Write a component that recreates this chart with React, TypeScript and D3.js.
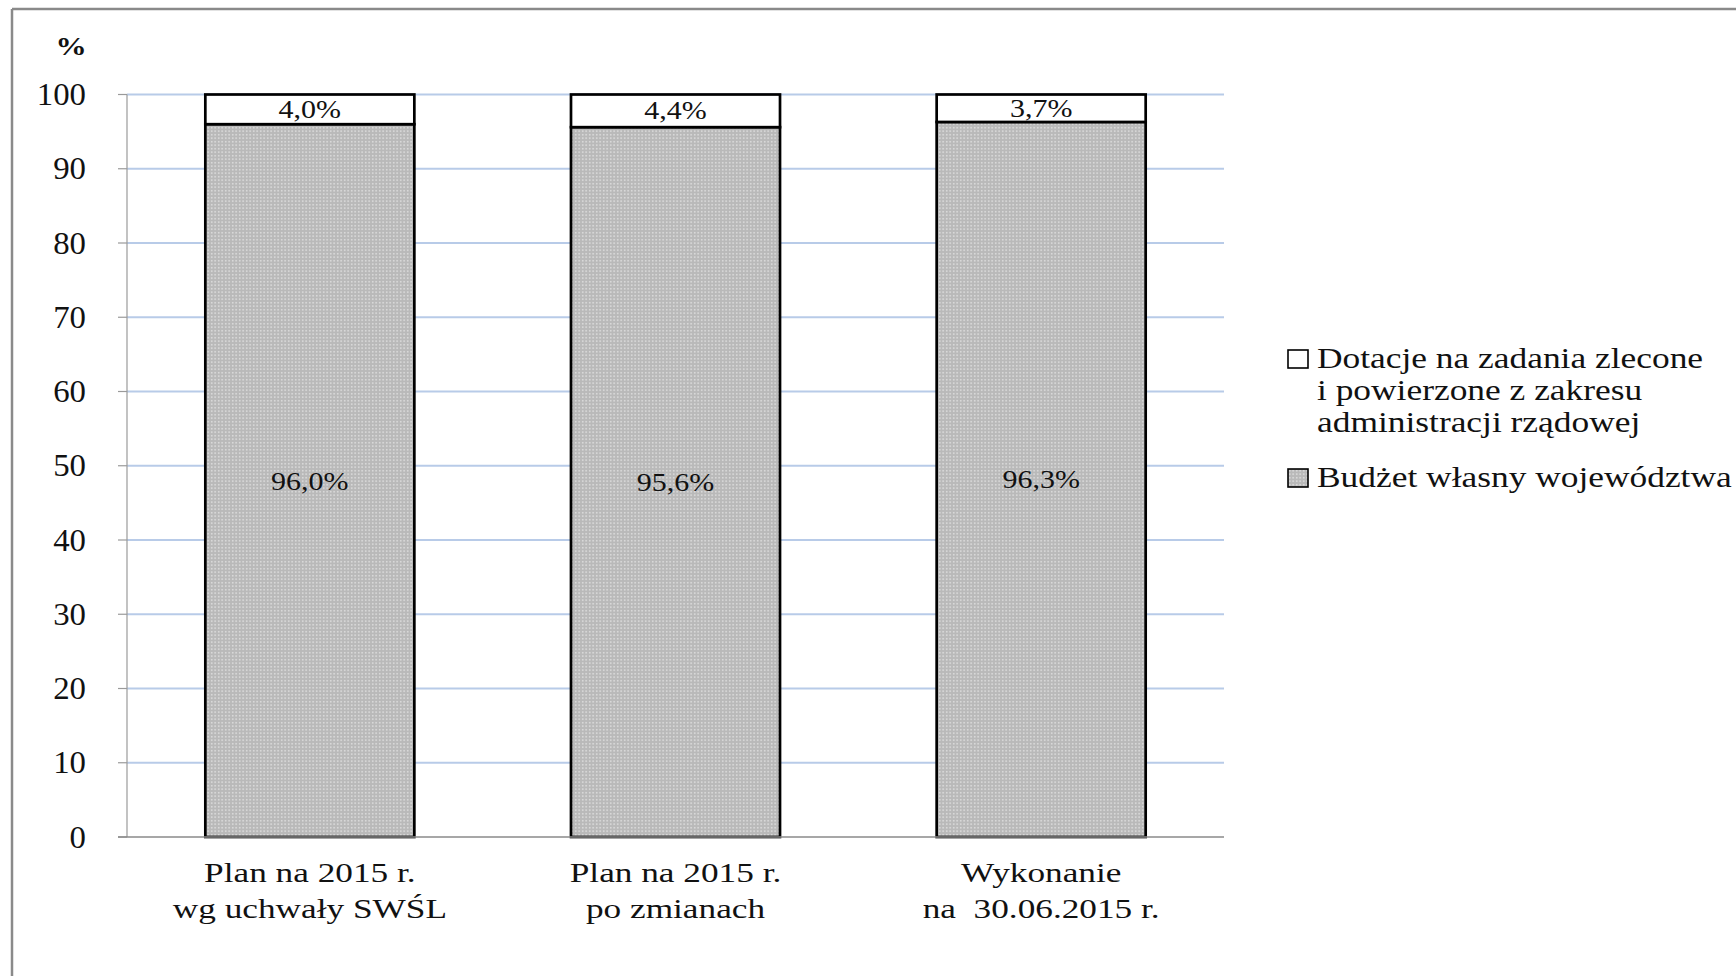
import React from 'react';
import * as d3 from 'd3';

// ---- data ----
const categoryLines: string[][] = [
  ['Plan na 2015 r.', 'wg uchwały SWŚL'],
  ['Plan na 2015 r.', 'po zmianach'],
  ['Wykonanie', 'na  30.06.2015 r.'],
];
const budzetWlasny = [96.0, 95.6, 96.3];
const dotacje = [4.0, 4.4, 3.7];
const budzetLabels = ['96,0%', '95,6%', '96,3%'];
const dotacjeLabels = ['4,0%', '4,4%', '3,7%'];
const yTicks = [0, 10, 20, 30, 40, 50, 60, 70, 80, 90, 100];
const legendDotacje = ['Dotacje na zadania zlecone', 'i powierzone z zakresu', 'administracji rządowej'];
const legendBudzet = ['Budżet własny województwa'];

const W = 1736;
const H = 976;
const SERIF = '"Liberation Serif", "Times New Roman", serif';

export default function App() {
  React.useEffect(() => {
    document.body.style.margin = '0';
  }, []);

  const plotLeft = 127;
  const plotRight = 1224;
  const x = d3
    .scaleBand<number>()
    .domain(d3.range(categoryLines.length))
    .range([plotLeft, plotRight])
    .paddingInner(0.4284)
    .paddingOuter(0.2142);
  const y = d3.scaleLinear().domain([0, 100]).range([837, 94.5]);

  const rows = categoryLines.map((_, i) => ({ i, budzet: budzetWlasny[i], dotacje: dotacje[i] }));
  const stack = d3.stack<any>().keys(['budzet', 'dotacje']);
  const series = stack(rows);

  const fills: Record<string, string> = { budzet: 'url(#dots)', dotacje: '#ffffff' };

  const legendX = 1288;
  const legendTextX = 1317;
  const lineH = 32;
  const legendTop = 368;
  const legendSecond = 487;

  return (
    <svg width={W} height={H} viewBox={`0 0 ${W} ${H}`} style={{ display: 'block' }}>
      <defs>
        <pattern id="dots" width={3.5} height={3.5} patternUnits="userSpaceOnUse">
          <rect width={3.5} height={3.5} fill="#b9b9b9" />
          <rect x={1} y={1} width={1.4} height={1.4} fill="#e6e6e6" />
        </pattern>
      </defs>
      <rect x={0} y={0} width={W} height={H} fill="#ffffff" />
      {/* frame */}
      <line x1={12} y1={9} x2={W} y2={9} stroke="#8a8a8a" strokeWidth={2.5} />
      <line x1={12} y1={9} x2={12} y2={H} stroke="#8a8a8a" strokeWidth={2.5} />

      {/* gridlines */}
      {yTicks.filter((t) => t > 0).map((t) => (
        <line key={'g' + t} x1={plotLeft} x2={plotRight} y1={y(t)} y2={y(t)} stroke="#b8cbe8" strokeWidth={2} />
      ))}
      {/* y axis */}
      <line x1={plotLeft} x2={plotLeft} y1={y(100)} y2={y(0)} stroke="#9a9a9a" strokeWidth={1.2} />
      {yTicks.map((t) => (
        <g key={'t' + t}>
          <line x1={plotLeft - 9} x2={plotLeft} y1={y(t)} y2={y(t)} stroke="#9a9a9a" strokeWidth={1.2} />
          <text
            transform={`translate(86, ${y(t) + 10.5}) scale(1.06, 1)`}
            textAnchor="end"
            fontFamily={SERIF}
            fontSize={31}
            fill="#111"
          >
            {t}
          </text>
        </g>
      ))}
      <text
        transform={`translate(71, 55) scale(1.25, 1)`}
        textAnchor="middle"
        fontFamily={SERIF}
        fontWeight="bold"
        fontSize={25}
        fill="#111"
      >
        %
      </text>

      {/* bars */}
      {series.map((s) =>
        s.map((d, i) => (
          <rect
            key={s.key + i}
            x={x(i)}
            width={x.bandwidth()}
            y={y(d[1])}
            height={y(d[0]) - y(d[1])}
            fill={fills[s.key]}
            stroke="#000"
            strokeWidth={2.7}
          />
        ))
      )}
      {/* x axis */}
      <line x1={plotLeft - 9} x2={plotRight} y1={y(0)} y2={y(0)} stroke="#8a8a8a" strokeWidth={1.5} />

      {/* value labels */}
      {series.map((s) =>
        s.map((d, i) => {
          const cx = (x(i) as number) + x.bandwidth() / 2;
          const cy = (y(d[0]) + y(d[1])) / 2;
          const label = s.key === 'budzet' ? budzetLabels[i] : dotacjeLabels[i];
          return (
            <text
              key={'l' + s.key + i}
              transform={`translate(${cx}, ${cy + (s.key === 'budzet' ? 9 : 8.5)}) scale(1.2, 1)`}
              textAnchor="middle"
              fontFamily={SERIF}
              fontSize={25}
              fill="#111"
            >
              {label}
            </text>
          );
        })
      )}

      {/* category labels */}
      {categoryLines.map((lines, i) => {
        const cx = (x(i) as number) + x.bandwidth() / 2;
        return lines.map((ln, j) => (
          <text
            key={'c' + i + j}
            transform={`translate(${cx}, ${882 + j * 36}) scale(1.26, 1)`}
            textAnchor="middle"
            fontFamily={SERIF}
            fontSize={28}
            fill="#111"
            style={{ whiteSpace: 'pre' }}
          >
            {ln}
          </text>
        ));
      })}

      {/* legend */}
      <rect x={legendX} y={legendTop - 18} width={20} height={18} fill="#fff" stroke="#000" strokeWidth={1.6} />
      {legendDotacje.map((ln, j) => (
        <text
          key={'ld' + j}
          transform={`translate(${legendTextX}, ${legendTop + j * lineH}) scale(1.18, 1)`}
          fontFamily={SERIF}
          fontSize={30}
          fill="#111"
        >
          {ln}
        </text>
      ))}
      <rect x={legendX} y={legendSecond - 18} width={20} height={18} fill="url(#dots)" stroke="#000" strokeWidth={1.6} />
      {legendBudzet.map((ln, j) => (
        <text
          key={'lb' + j}
          transform={`translate(${legendTextX}, ${legendSecond + j * lineH}) scale(1.18, 1)`}
          fontFamily={SERIF}
          fontSize={30}
          fill="#111"
        >
          {ln}
        </text>
      ))}
    </svg>
  );
}
